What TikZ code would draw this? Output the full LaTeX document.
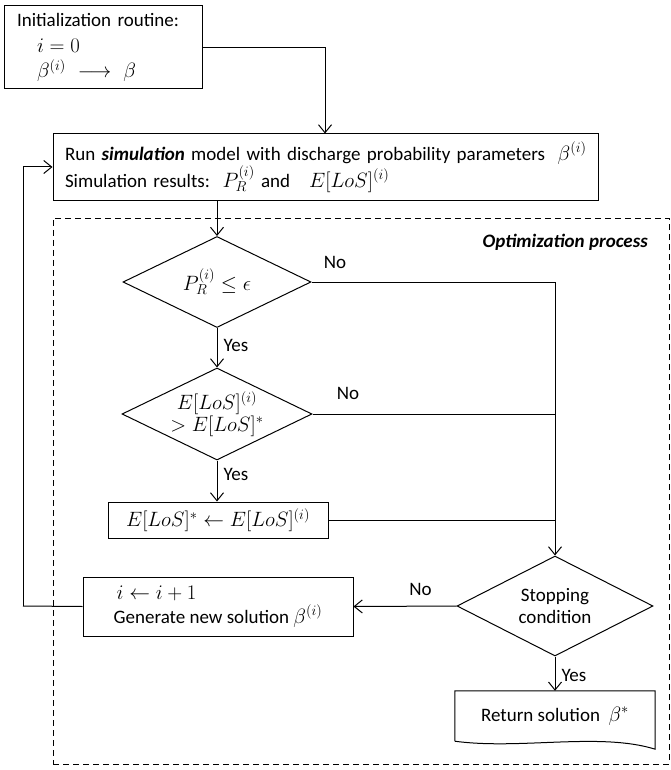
\documentclass[tikz,border=0pt]{standalone}
\usepackage{fontspec}
\setmainfont{Carlito}
\DeclareMathSizes{19}{21}{15}{12}
\usetikzlibrary{shapes.geometric,arrows.meta,calc}
\begin{document}
\begin{tikzpicture}[x=1pt,y=-1pt,
  box/.style={draw, line width=1pt, rectangle, inner sep=0pt},
  dec/.style={draw, line width=1pt, diamond, inner sep=0pt},
  arr/.style={line width=1pt, -{Straight Barb[length=8pt,width=13pt]}},
  ln/.style={line width=1pt},
  lbl/.style={inner sep=0pt, font=\fontsize{19}{22}\selectfont},
  txt/.style={font=\fontsize{19}{22}\selectfont}
]
\useasboundingbox (0,0) rectangle (670,770);

% dashed container
\node[draw, dashed, dash pattern=on 6pt off 4pt, line width=0.9pt, rectangle, inner sep=0pt,
      minimum width=616pt, minimum height=546pt] (opt) at (361,491) {};
\node[lbl, anchor=east, font=\fontsize{19}{22}\selectfont\bfseries\itshape] (optlbl) at (648,242) {Optimization process};

% init box
\node[box, minimum width=198pt, minimum height=83pt, text width=172pt, inner xsep=13pt,
      align=left, font=\fontsize{19}{25.5}\selectfont] (init) at (103,47.5)
  {Initialization routine:\\ \hspace*{20pt}$i=0$\\ \hspace*{20pt}$\beta^{(i)}\ \longrightarrow\ \beta$};

% simulation box
\node[box, minimum width=545pt, minimum height=66pt, text width=521pt, inner xsep=12pt, align=left,
      font=\fontsize{19}{27}\selectfont] (sim) at (325.5,167)
  {\mbox{Run \textbf{\textit{simulation}} model with discharge probability parameters\ \ $\beta^{(i)}$}\\
   \mbox{Simulation results:\ \ $P_R^{(i)}$ and\ \ \ $E[LoS]^{(i)}$}};

% decision 1
\node[dec, minimum width=188pt, minimum height=91pt,
      label={[txt]center:$P_R^{(i)}\le\epsilon$}] (d1) at (217,282) {};
% decision 2
\node[dec, minimum width=190pt, minimum height=92pt,
      label={[txt, align=center, font=\fontsize{19}{20}\selectfont]center:$E[LoS]^{(i)}$\\$>E[LoS]^{*}$}] (d2) at (217,414) {};
% update box
\node[box, minimum width=220pt, minimum height=36pt, txt] (upd) at (218,520)
  {$E[LoS]^{*}\leftarrow E[LoS]^{(i)}$};
% stopping
\node[dec, minimum width=196pt, minimum height=100pt,
      label={[txt, align=center, font=\fontsize{19}{22}\selectfont]center:Stopping\\condition}] (stop) at (555,606) {};
% generate box
\node[box, minimum width=270pt, minimum height=59pt, align=left,
      font=\fontsize{19}{24}\selectfont] (gen) at (218,606.5)
  {\hspace*{3pt}$i\leftarrow i+1$\\Generate new solution $\beta^{(i)}$};
% return (document shape)
\node[rectangle, inner sep=0pt, minimum width=200pt, minimum height=50pt, txt] (ret) at (555,716)
  {Return solution\ \ $\beta^{*}$};
\draw[ln] (ret.south west) -- (ret.north west) -- (ret.north east) -- ([yshift=-8pt]ret.south east)
  .. controls (600,732) and (520,750) .. (ret.south west);

% connectors
\coordinate (fb) at (23,606);
\draw[arr] (init.east) -| (sim.north -| 325,0);
\draw[arr] (d1.north |- sim.south) -- (d1.north);
\draw[arr] (d1.south) -- node[lbl, right=6pt, pos=0.45] (y1) {Yes} (d2.north);
\draw[arr] (d2.south) -- node[lbl, right=6pt, pos=0.35] (y2) {Yes} (d2.south |- upd.north);
\draw[ln] (d1.east) -- (d1.east -| stop.north);
\draw[arr] (d1.east -| stop.north) -- (stop.north);
\draw[ln] (d2.east) -- (d2.east -| stop.north);
\draw[ln] (upd.east) -- (upd.east -| stop.north);
\node[lbl] (n1) at (335,262) {No};
\node[lbl] (n2) at (348,393) {No};
\draw[arr] (stop.west) -- node[lbl, above=10pt, pos=0.35] (n3) {No} (gen.east);
\draw[arr] (stop.south) -- node[lbl, right=6pt, pos=0.55] (y3) {Yes} (ret.north);
\draw[ln] (gen.west) -- (fb);
\draw[arr] (fb) -- (fb |- sim.west) -- (sim.west);
\end{tikzpicture}
\end{document}
